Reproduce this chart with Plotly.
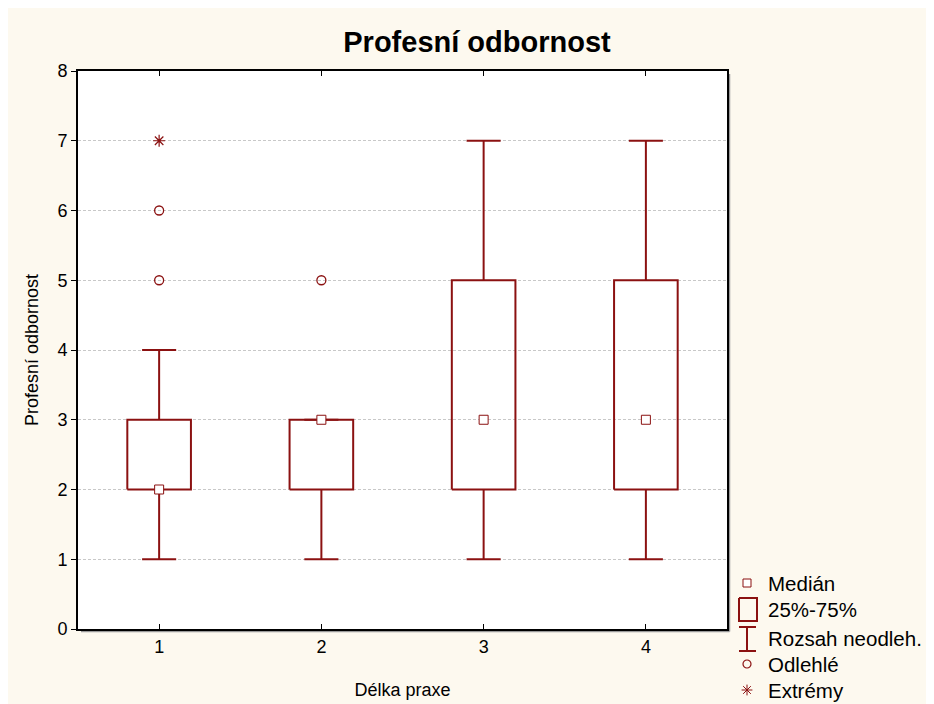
import plotly.graph_objects as go

# ---- data ----
categories = [1, 2, 3, 4]
whisker_low = [1, 1, 1, 1]
q1 = [2, 2, 2, 2]
median = [2, 3, 3, 3]
q3 = [3, 3, 5, 5]
whisker_high = [4, 3, 7, 7]
outlier_x = [1, 1, 2]
outlier_y = [5, 6, 5]
extreme_x = [1]
extreme_y = [7]
y_ticks = [0, 1, 2, 3, 4, 5, 6, 7, 8]
legend_labels = ["Medián", "25%-75%", "Rozsah neodleh.", "Odlehlé", "Extrémy"]

RED = "#8b1111"
CREAM = "#fdf9ef"
FONT = "Liberation Sans"
BOX_HW = 0.196
CAP_HW = 0.105

fig = go.Figure()

# boxes
bx, by = [], []
for c, a, b in zip(categories, q1, q3):
    bx += [c - BOX_HW, c + BOX_HW, c + BOX_HW, c - BOX_HW, c - BOX_HW, None]
    by += [a, a, b, b, a, None]
fig.add_trace(go.Scatter(x=bx, y=by, mode="lines", line=dict(color=RED, width=2),
                         showlegend=False, hoverinfo="skip"))

# whiskers + caps
wx, wy = [], []
for c, lo, a, b, hi in zip(categories, whisker_low, q1, q3, whisker_high):
    if lo < a:
        wx += [c, c, None]
        wy += [lo, a, None]
    if hi > b:
        wx += [c, c, None]
        wy += [b, hi, None]
    wx += [c - CAP_HW, c + CAP_HW, None, c - CAP_HW, c + CAP_HW, None]
    wy += [lo, lo, None, hi, hi, None]
fig.add_trace(go.Scatter(x=wx, y=wy, mode="lines", line=dict(color=RED, width=2),
                         showlegend=False, hoverinfo="skip"))

# medians
fig.add_trace(go.Scatter(x=categories, y=median, mode="markers",
                         marker=dict(symbol="square", size=9, color="white",
                                     line=dict(color=RED, width=1)),
                         showlegend=False))
# outliers
fig.add_trace(go.Scatter(x=outlier_x, y=outlier_y, mode="markers",
                         marker=dict(symbol="circle-open", size=9, color=RED,
                                     line=dict(color=RED, width=1.3)),
                         showlegend=False))
# extremes
fig.add_trace(go.Scatter(x=extreme_x, y=extreme_y, mode="markers",
                         marker=dict(symbol="asterisk-open", size=10, color=RED,
                                     line=dict(color=RED, width=1.2)),
                         showlegend=False))

# ---- custom legend (on a hidden axis scaled in page pixels) ----
leg_y = [583, 609, 638, 664, 690]
gx = 747
fig.add_trace(go.Scatter(x=[gx], y=[leg_y[0]], mode="markers", xaxis="x2", yaxis="y2",
                         marker=dict(symbol="square", size=8, color="white",
                                     line=dict(color=RED, width=1)),
                         showlegend=False, hoverinfo="skip"))
fig.add_trace(go.Scatter(x=[739, 757, 757, 739, 739], y=[598, 598, 621, 621, 598],
                         mode="lines", xaxis="x2", yaxis="y2",
                         line=dict(color=RED, width=2), showlegend=False, hoverinfo="skip"))
fig.add_trace(go.Scatter(x=[739, 756, None, gx, gx, None, 739, 756],
                         y=[627, 627, None, 627, 651, None, 651, 651],
                         mode="lines", xaxis="x2", yaxis="y2",
                         line=dict(color=RED, width=2), showlegend=False, hoverinfo="skip"))
fig.add_trace(go.Scatter(x=[gx], y=[leg_y[3]], mode="markers", xaxis="x2", yaxis="y2",
                         marker=dict(symbol="circle-open", size=8, color=RED,
                                     line=dict(color=RED, width=1.2)),
                         showlegend=False, hoverinfo="skip"))
fig.add_trace(go.Scatter(x=[gx], y=[leg_y[4]], mode="markers", xaxis="x2", yaxis="y2",
                         marker=dict(symbol="asterisk-open", size=9, color=RED,
                                     line=dict(color=RED, width=1)),
                         showlegend=False, hoverinfo="skip"))
for lab, yy in zip(legend_labels, leg_y):
    fig.add_annotation(x=766, y=yy, xref="x2", yref="y2", text=lab, showarrow=False,
                       xanchor="left", yanchor="middle",
                       font=dict(family=FONT, size=20.5, color="black"))

# white plot area + border shadow
fig.add_shape(type="rect", xref="x domain", yref="y domain", x0=0, x1=1, y0=0, y1=1,
              fillcolor="white", line=dict(width=0), layer="below")
fig.add_shape(type="line", xref="x domain", yref="y domain",
              x0=1 + 2.5 / 649, x1=1 + 2.5 / 649, y0=-2.5 / 558, y1=1 - 3 / 558,
              line=dict(color="#9a9a9a", width=1.5), layer="below")
fig.add_shape(type="line", xref="x domain", yref="y domain",
              x0=3 / 649, x1=1 + 2.5 / 649, y0=-2.5 / 558, y1=-2.5 / 558,
              line=dict(color="#9a9a9a", width=1.5), layer="below")

PW = 934 - 70
PH = 704 - 63 - 10
fig.update_layout(
    width=934, height=704,
    margin=dict(l=70, r=0, t=63, b=10),
    paper_bgcolor=CREAM,
    plot_bgcolor=CREAM,
    title=dict(text="<b>Profesní odbornost</b>", x=469 / 934, xref="container",
               xanchor="center", y=1 - 34 / 704, yref="container", yanchor="middle",
               font=dict(family=FONT, size=29, color="black")),
    xaxis=dict(domain=[0, 649 / PW], range=[0.5, 4.5], tickvals=categories,
               ticktext=[str(c) for c in categories],
               showline=True, linecolor="black", linewidth=2, mirror="ticks",
               ticks="inside", ticklen=5, tickcolor="black", showgrid=False,
               zeroline=False, tickfont=dict(family=FONT, size=18, color="black"),
               title=dict(text="Délka praxe", standoff=28,
                          font=dict(family=FONT, size=18, color="black"))),
    yaxis=dict(domain=[(PH - 558) / PH, 1], range=[0, 8], tickvals=y_ticks,
               showline=True, linecolor="black", linewidth=2, mirror=True,
               ticks="outside", ticklen=5, tickcolor="black",
               showgrid=True, gridcolor="#c8c8c8", griddash="3px,2px", gridwidth=1,
               zeroline=False, tickfont=dict(family=FONT, size=18, color="black"),
               title=dict(text="Profesní odbornost", standoff=14,
                          font=dict(family=FONT, size=18, color="black"))),
    xaxis2=dict(domain=[(727 - 70) / PW, 1], range=[735, 942], visible=False,
                anchor="y2", fixedrange=True),
    yaxis2=dict(domain=[0, 142 / PH], range=[702, 560], visible=False,
                anchor="x2", fixedrange=True),
)

fig.write_html("out.html")
